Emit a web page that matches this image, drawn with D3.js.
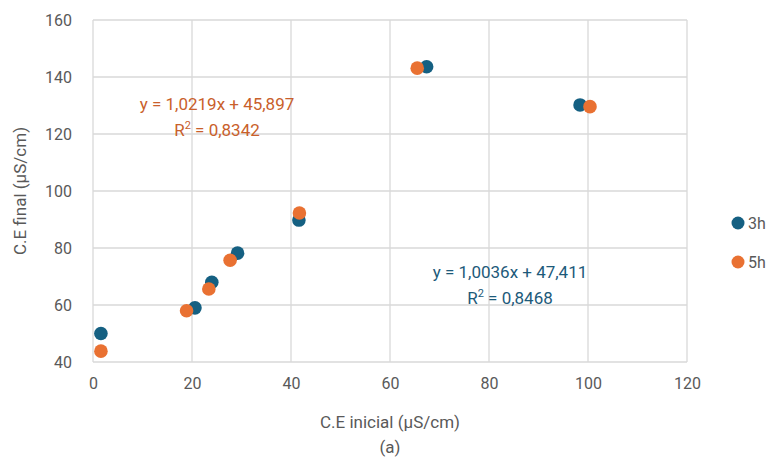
<html>
<head>
<script src="https://d3js.org/d3.v7.min.js"></script>
<style>
  body { margin: 0; background: #fff; }
  svg text { font-family: "Roboto", sans-serif; }
</style>
</head>
<body>
<div id="wrapper"></div>
<script>
// values
var seriesNames = ["3h", "5h"];
var x3h = [1.6, 20.6, 24.0, 29.2, 41.6, 67.4, 98.4];
var y3h = [50.0, 59.0, 68.0, 78.2, 89.8, 143.6, 130.2];
var x5h = [1.6, 18.9, 23.4, 27.7, 41.7, 65.5, 100.4];
var y5h = [43.8, 58.0, 65.6, 75.7, 92.3, 143.1, 129.6];
var xTicks = [0, 20, 40, 60, 80, 100, 120];
var yTicks = [40, 60, 80, 100, 120, 140, 160];
var eq3h = ["y = 1,0036x + 47,411", "0,8468"];
var eq5h = ["y = 1,0219x + 45,897", "0,8342"];

var colors = { "3h": "#156082", "5h": "#e97132" };
var textColors = { "3h": "#1d5a7a", "5h": "#c9602b" };

var W = 774, H = 459;
var plotL = 93, plotR = 687, plotT = 20, plotB = 362;

var svg = d3.select("#wrapper").append("svg")
  .attr("width", W).attr("height", H);

var xScale = d3.scaleLinear().domain([0, 120]).range([plotL, plotR]);
var yScale = d3.scaleLinear().domain([40, 160]).range([plotB, plotT]);

// grid
svg.append("g").selectAll("line").data(xTicks).enter().append("line")
  .attr("x1", function(d) { return xScale(d); })
  .attr("x2", function(d) { return xScale(d); })
  .attr("y1", plotT).attr("y2", plotB)
  .attr("stroke", "#d9d9d9").attr("stroke-width", 1.3);
svg.append("g").selectAll("line").data(yTicks).enter().append("line")
  .attr("x1", plotL).attr("x2", plotR)
  .attr("y1", function(d) { return yScale(d); })
  .attr("y2", function(d) { return yScale(d); })
  .attr("stroke", "#d9d9d9").attr("stroke-width", 1.3);

// axes (labels only)
var xAxis = d3.axisBottom(xScale).tickValues(xTicks).tickSize(0).tickPadding(16);
var gx = svg.append("g").attr("transform", "translate(0," + plotB + ")").call(xAxis);
var yAxis = d3.axisLeft(yScale).tickValues(yTicks).tickSize(0).tickPadding(21);
var gy = svg.append("g").attr("transform", "translate(" + plotL + ",0)").call(yAxis);
[gx, gy].forEach(function(g) {
  g.select(".domain").remove();
  g.selectAll("text").attr("fill", "#595959").style("font-size", "16px")
    .style("font-family", "Roboto, sans-serif");
});

// axis titles
svg.append("text")
  .attr("x", (plotL + plotR) / 2).attr("y", 428)
  .attr("text-anchor", "middle").attr("fill", "#595959")
  .style("font-size", "17px").text("C.E inicial (µS/cm)");
svg.append("text")
  .attr("x", (plotL + plotR) / 2).attr("y", 453)
  .attr("text-anchor", "middle").attr("fill", "#595959")
  .style("font-size", "17px").text("(a)");
svg.append("text")
  .attr("transform", "translate(26," + ((plotT + plotB) / 2) + ") rotate(-90)")
  .attr("text-anchor", "middle").attr("fill", "#595959")
  .style("font-size", "17px").text("C.E final (µS/cm)");

// points
function drawSeries(xs, ys, name) {
  svg.append("g").selectAll("circle").data(xs).enter().append("circle")
    .attr("cx", function(d) { return xScale(d); })
    .attr("cy", function(d, i) { return yScale(ys[i]); })
    .attr("r", 6.8)
    .attr("fill", colors[name]);
}
drawSeries(x3h, y3h, "3h");
drawSeries(x5h, y5h, "5h");

// trendline labels
function eqLabel(lines, name, cx, cy) {
  svg.append("text").attr("text-anchor", "middle")
    .attr("fill", textColors[name]).style("font-size", "17px")
    .attr("x", cx).attr("y", cy).text(lines[0]);
  var t2 = svg.append("text").attr("text-anchor", "middle")
    .attr("fill", textColors[name]).style("font-size", "17px")
    .attr("x", cx).attr("y", cy + 26);
  t2.append("tspan").text("R");
  t2.append("tspan").attr("dy", -7).style("font-size", "11px").text("2");
  t2.append("tspan").attr("dy", 7).text(" = " + lines[1]);
}
eqLabel(eq5h, "5h", 217, 110);
eqLabel(eq3h, "3h", 510, 278);

// legend
var legend = svg.append("g").selectAll("g").data(seriesNames).enter().append("g")
  .attr("transform", function(d, i) { return "translate(738," + (223 + i * 39) + ")"; });
legend.append("circle").attr("r", 6.5).attr("fill", function(d) { return colors[d]; });
legend.append("text").attr("x", 10).attr("y", 6)
  .attr("fill", "#595959").style("font-size", "16px")
  .text(function(d) { return d; });
</script>
</body>
</html>
